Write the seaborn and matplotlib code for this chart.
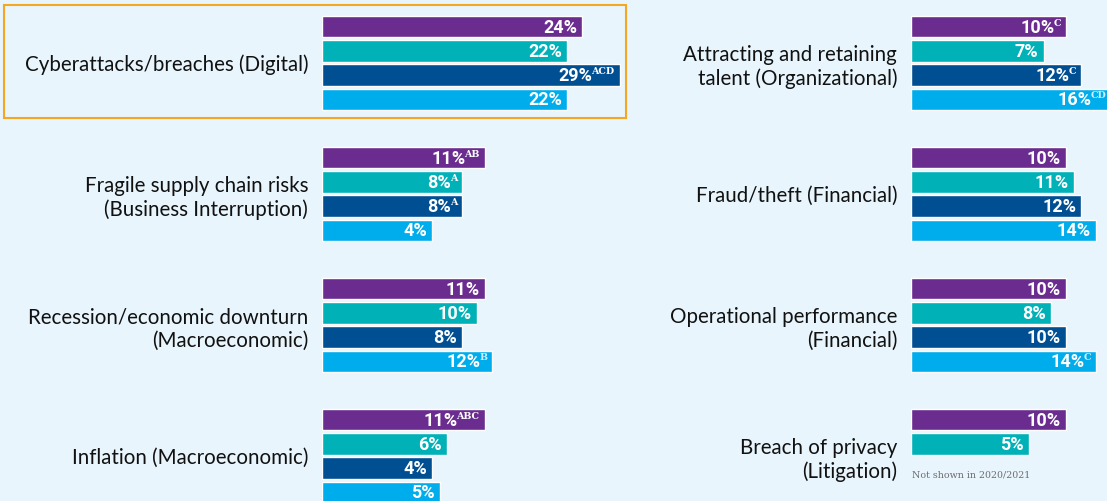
import numpy as np
import pandas as pd
import matplotlib
matplotlib.use("Agg")
import matplotlib.pyplot as plt
from matplotlib.patches import Rectangle
import seaborn as sns

# podaci - leva kolona
cats_left = ["Cyberattacks/breaches (Digital)",
             "Fragile supply chain risks\n(Business Interruption)",
             "Recession/economic downturn\n(Macroeconomic)",
             "Inflation (Macroeconomic)"]
left_a = [24, 11, 11, 11]
left_b = [22, 8, 10, 6]
left_c = [29, 8, 8, 4]
left_d = [22, 4, 12, 5]
sup_left_a = ["", "AB", "", "ABC"]
sup_left_b = ["", "A", "", ""]
sup_left_c = ["ACD", "A", "", ""]
sup_left_d = ["", "", "B", ""]

# podaci - desna kolona
cats_right = ["Attracting and retaining\ntalent (Organizational)",
              "Fraud/theft (Financial)",
              "Operational performance\n(Financial)",
              "Breach of privacy\n(Litigation)"]
right_a = [10, 10, 10, 10]
right_b = [7, 11, 8, 5]
right_c = [12, 12, 10, None]
right_d = [16, 14, 14, None]
sup_right_a = ["C", "", "", ""]
sup_right_b = ["", "", "", ""]
sup_right_c = ["C", "", "", ""]
sup_right_d = ["CD", "", "C", ""]

columns = ["A", "B", "C", "D"]
colors = ["#6a2c8f", "#00b1b8", "#004f93", "#00adec"]
sup_colors = ["#ffffff", "#ffffff", "#ffffff", "#cdeefc"]
note = "Not shown in 2020/2021"

BG = "#e8f5fc"
STUB = 10.67      # deo trake pre nule
PX = 7.5          # piksela po procentu

sns.set_theme(style="white", rc={"axes.facecolor": BG, "figure.facecolor": BG})
plt.rcParams["font.family"] = ["Lato", "DejaVu Sans"]


def long_df(cats, vals):
    rows = []
    for col, vs in zip(columns, vals):
        for c, v in zip(cats, vs):
            if v is not None:
                rows.append({"risk": c, "col": col, "share": v})
    return pd.DataFrame(rows)


fig = plt.figure(figsize=(11.07, 5.01), dpi=100)
W, H = 1107, 501
ax_l = fig.add_axes([322 / W, -20.5 / H, 318 / W, 524 / H])
ax_r = fig.add_axes([911 / W, -20.5 / H, 196 / W, 524 / H])

panels = [
    (ax_l, cats_left, [left_a, left_b, left_c, left_d],
     [sup_left_a, sup_left_b, sup_left_c, sup_left_d], 318),
    (ax_r, cats_right, [right_a, right_b, right_c, right_d],
     [sup_right_a, sup_right_b, sup_right_c, sup_right_d], 196),
]

renderer = fig.canvas.get_renderer()

for ax, cats, vals, sups, width_px in panels:
    df = long_df(cats, vals)
    sns.barplot(data=df, y="risk", x="share", hue="col", hue_order=columns,
                order=cats, palette=colors, orient="h", width=0.742, gap=0.1,
                saturation=1, errorbar=None, legend=False, ax=ax)
    ax.set_xlim(-STUB, -STUB + width_px / PX)
    ax.set_ylim(3.5, -0.5)
    ax.set_xlabel("")
    ax.set_ylabel("")
    ax.set_xticks([])
    sns.despine(ax=ax, left=True, bottom=True)
    ax.tick_params(axis="y", length=0, pad=10, labelsize=14.8, labelcolor="#111111")
    for lbl in ax.get_yticklabels():
        lbl.set_multialignment("right")
        lbl.set_linespacing(1.25)

    for j, cont in enumerate(ax.containers):
        for p in cont:
            w = p.get_width()
            if np.isnan(w):
                continue
            yc = p.get_y() + p.get_height() / 2
            i = int(round(yc))
            v = vals[j][i]
            p.set_x(-STUB)
            p.set_width(v + STUB)
            s = sups[j][i]
            off = -5
            if s:
                ts = ax.annotate(s, xy=(v, yc), xytext=(-5, 8), textcoords="offset pixels",
                                 ha="right", va="top", fontsize=6.8, color=sup_colors[j],
                                 family="DejaVu Serif", fontweight="bold",
                                 annotation_clip=False)
                off = -4 - ts.get_window_extent(renderer).width
            ax.annotate(f"{v}%", xy=(v, yc), xytext=(off, -1), textcoords="offset pixels",
                        ha="right", va="center", fontsize=13, color="white",
                        family="Roboto", fontweight="bold",
                        annotation_clip=False)

# okvir oko prve grupe
fig.add_artist(Rectangle((4 / W, 1 - 118 / H), 622 / W, 113 / H, transform=fig.transFigure,
                         fill=False, ec="#f5a623", lw=1.5))

fig.text(912 / W, 1 - 475 / H, note, fontsize=6.8, color="#6d6d6d",
         family="DejaVu Serif", va="center", ha="left")

fig.savefig("out.png", dpi=100, facecolor=BG)
